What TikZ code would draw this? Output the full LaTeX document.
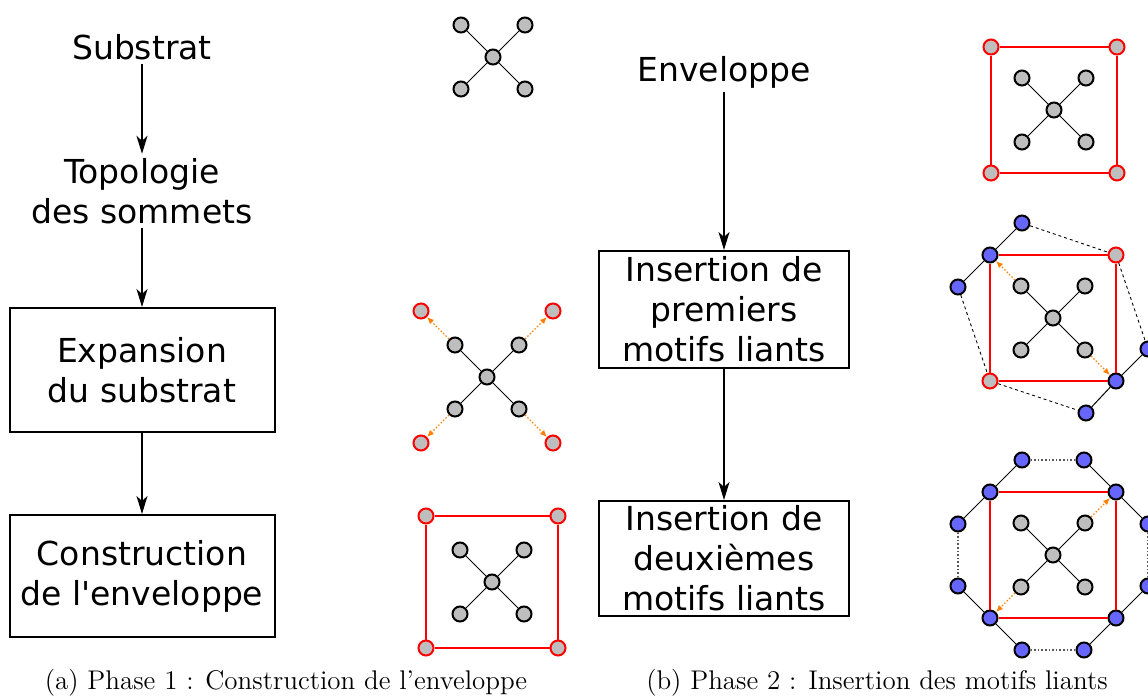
\documentclass[tikz,border=0pt]{standalone}
\usepackage{fontspec}
\newfontfamily\dejavu{DejaVu Sans}[Ligatures=TeXOff]
\usetikzlibrary{arrows.meta}
\definecolor{gris}{RGB}{190,190,190}
\definecolor{bleu}{RGB}{102,102,255}
\definecolor{orangeliant}{RGB}{255,128,0}

\begin{document}
\begin{tikzpicture}[x = .5pt, y = -.5pt,
    texte/.style = {font = \dejavu\fontsize{16.5}{20}\selectfont, align = center, inner sep = 2pt},
    etape/.style = {texte, draw, line width = 1pt, inner sep = 0pt},
    fleche/.style = {-{Stealth[length = 9pt, width = 5.5pt, inset = 2.5pt]}, line width = .9pt},
    atome/.style = {circle, draw, line width = 1pt, fill = gris, inner sep = 0pt, minimum size = 7.5pt},
    coin/.style = {atome, draw = red},
    liant/.style = {atome, fill = bleu},
    lien/.style = {line width = .5pt},
    bord/.style = {red, line width = .8pt},
    pointille/.style = {line width = .45pt, dash pattern = on 1.5pt off 1.5pt},
    ferme/.style = {gray!70!black, line width = .8pt, densely dotted},
    expansion/.style = {orangeliant, densely dotted, line width = .7pt, -{Latex[length = 3.5pt, width = 3pt]}},
    legende/.style = {font = \fontsize{13.5}{16}\selectfont}]
  \clip (0,0) rectangle (1148,696);

  % phase 1
  \node [texte] (substrat) at (142,47) {Substrat};
  \node [texte] (topologie) at (142,191) {Topologie\\des sommets};
  \node [etape, minimum width = 132.5pt, minimum height = 62pt] (expansion) at (142,370) {Expansion\\du substrat};
  \node [etape, minimum width = 132.5pt, minimum height = 61pt] (construction) at (142,576) {Construction\\de l'enveloppe};
  \draw [fleche] (substrat) -- (topologie);
  \draw [fleche] (topologie) -- (expansion);
  \draw [fleche] (expansion) -- (construction);

  % phase 2
  \node [texte] (enveloppe) at (724,72) {Enveloppe};
  \node [etape, minimum width = 125pt, minimum height = 58.5pt] (premiers) at (724,309.5) {Insertion de\\premiers\\motifs liants};
  \node [etape, minimum width = 125pt, minimum height = 57.5pt] (deuxiemes) at (724,558.5) {Insertion de\\deuxièmes\\motifs liants};
  \draw [fleche] (enveloppe) -- (premiers);
  \draw [fleche] (premiers) -- (deuxiemes);

  % les croix
  \foreach \m/\cx/\cy in {a/493/57, b/487/377, c/492/582, d/1054/110, e/1053/318, f/1053/555} {
    \node [atome] (\m0) at (\cx,\cy) {};
    \foreach \i/\dx/\dy in {1/-1/-1, 2/1/-1, 3/-1/1, 4/1/1} {
      \node [atome] (\m\i) at (\cx+32*\dx,\cy+32*\dy) {};
      \draw [lien] (\m0) -- (\m\i);
    }
  }

  % expansion
  \foreach \i/\j/\dx/\dy in {1/5/-1/-1, 2/6/1/-1, 3/7/-1/1, 4/8/1/1} {
    \node [coin] (b\j) at (487+66*\dx,377+66*\dy) {};
    \draw [expansion] (b\i) -- (b\j);
  }

  % enveloppes
  \foreach \j/\dx/\dy in {5/-1/-1, 6/1/-1, 7/-1/1, 8/1/1} {
    \node [coin] (c\j) at (492+66*\dx,582+66*\dy) {};
    \node [coin] (d\j) at (1054+63*\dx,110+63*\dy) {};
  }
  \draw [bord] (c5) -- (c6) -- (c8) -- (c7) -- (c5);
  \draw [bord] (d5) -- (d6) -- (d8) -- (d7) -- (d5);

  % premiers motifs liants
  \node [liant] (e5) at (990,255) {};
  \node [coin]  (e6) at (1116,255) {};
  \node [coin]  (e7) at (990,381) {};
  \node [liant] (e8) at (1116,381) {};
  \node [liant] (eh) at (1022,223) {};
  \node [liant] (eg) at (958,287) {};
  \node [liant] (eb) at (1086,413) {};
  \node [liant] (ed) at (1148,349) {};
  \draw [bord] (e5) -- (e6) -- (e8) -- (e7) -- (e5);
  \draw [lien] (eh) -- (e5) -- (eg);
  \draw [lien] (eb) -- (e8) -- (ed);
  \draw [pointille] (eh) -- (e6) -- (ed);
  \draw [pointille] (eg) -- (e7) -- (eb);
  \draw [expansion] (e1) -- (e5);
  \draw [expansion] (e4) -- (e8);

  % deuxiemes motifs liants
  \node [liant] (f5) at (990,492) {};
  \node [liant] (f6) at (1116,492) {};
  \node [liant] (f7) at (990,618) {};
  \node [liant] (f8) at (1116,618) {};
  \node [liant] (fh1) at (1022,460) {};
  \node [liant] (fh2) at (1084,460) {};
  \node [liant] (fg1) at (958,524) {};
  \node [liant] (fg2) at (958,586) {};
  \node [liant] (fb1) at (1022,650) {};
  \node [liant] (fb2) at (1084,650) {};
  \node [liant] (fd1) at (1148,524) {};
  \node [liant] (fd2) at (1148,586) {};
  \draw [bord] (f5) -- (f6) -- (f8) -- (f7) -- (f5);
  \draw [lien] (fh1) -- (f5) -- (fg1);
  \draw [lien] (fh2) -- (f6) -- (fd1);
  \draw [lien] (fg2) -- (f7) -- (fb1);
  \draw [lien] (fb2) -- (f8) -- (fd2);
  \draw [ferme] (fh1) -- (fh2);
  \draw [ferme] (fg1) -- (fg2);
  \draw [ferme] (fb1) -- (fb2);
  \draw [ferme] (fd1) -- (fd2);
  \draw [expansion] (f2) -- (f6);
  \draw [expansion] (f3) -- (f7);

  % legendes
  \node [legende] (legendea) at (286,683) {(a) Phase 1 : Construction de l'enveloppe};
  \node [legende] (legendeb) at (877,683) {(b) Phase 2 : Insertion des motifs liants};
\end{tikzpicture}
\end{document}
